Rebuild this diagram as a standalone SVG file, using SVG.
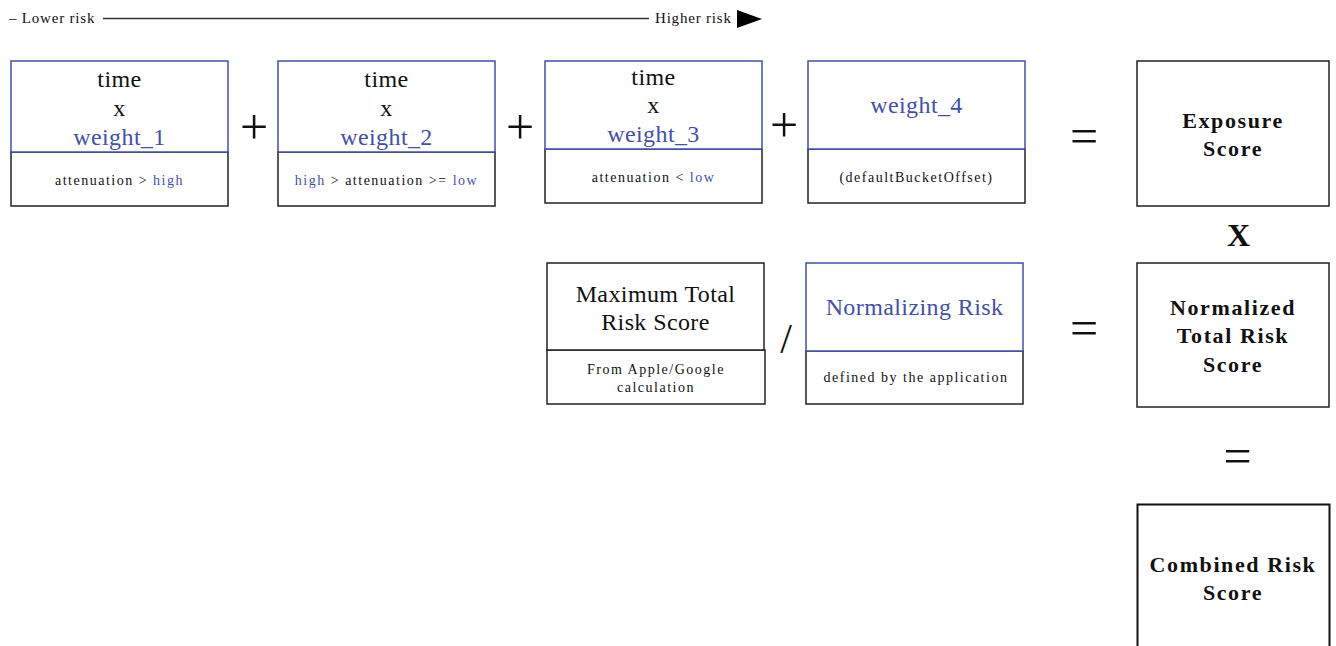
<svg xmlns="http://www.w3.org/2000/svg" width="1336" height="646" viewBox="0 0 1336 646">
  <style>
    .bg { fill: #ffffff; }
    .box { fill: #ffffff; stroke: #222; stroke-width: 1.5; }
    .boxb { fill: #ffffff; stroke: #3f4fb3; stroke-width: 1.5; }
    .t { font-family: "Liberation Serif", "Times New Roman", serif; fill: #111; text-anchor: middle; }
    .big { font-size: 24px; letter-spacing: 0.4px; }
    .small { font-size: 14px; letter-spacing: 1.5px; }
    .bold { font-size: 22px; font-weight: bold; letter-spacing: 1.6px; }
    .blue { fill: #3f4fb3; }
    .op { font-family: "Liberation Serif", "Times New Roman", serif; fill: #111; text-anchor: middle; font-size: 50px; }
    .axis { font-family: "Liberation Serif", "Times New Roman", serif; fill: #111; font-size: 15px; letter-spacing: 0.8px; }
  </style>
  <rect class="bg" x="0" y="0" width="1336" height="646"/>

  <!-- risk scale -->
  <g id="risk-scale">
    <text class="axis" x="9" y="23">– Lower risk</text>
    <line x1="103" y1="18.5" x2="649" y2="18.5" stroke="#333" stroke-width="1.6"/>
    <text class="axis" x="655" y="23">Higher risk</text>
    <polygon points="737,10 762,19 737,28" fill="#000"/>
  </g>

  <!-- term 1 -->
  <g id="term1">
    <rect class="box" x="11" y="152" width="217" height="54"/>
    <rect class="boxb" x="11" y="61" width="217" height="91"/>
    <text class="t big" x="119.5" y="87">time</text>
    <text class="t big" x="119.5" y="116">x</text>
    <text class="t big blue" x="119.5" y="145">weight_1</text>
    <text class="t small" x="119.5" y="185">attenuation &gt; <tspan class="blue">high</tspan></text>
  </g>

  <!-- term 2 -->
  <g id="term2">
    <rect class="box" x="278" y="152" width="217" height="54"/>
    <rect class="boxb" x="278" y="61" width="217" height="91"/>
    <text class="t big" x="386.5" y="87">time</text>
    <text class="t big" x="386.5" y="116">x</text>
    <text class="t big blue" x="386.5" y="145">weight_2</text>
    <text class="t small" x="386.5" y="185"><tspan class="blue">high</tspan> &gt; attenuation &gt;= <tspan class="blue">low</tspan></text>
  </g>

  <!-- term 3 -->
  <g id="term3">
    <rect class="box" x="545" y="149" width="217" height="54"/>
    <rect class="boxb" x="545" y="61" width="217" height="88"/>
    <text class="t big" x="653.5" y="85">time</text>
    <text class="t big" x="653.5" y="113">x</text>
    <text class="t big blue" x="653.5" y="142">weight_3</text>
    <text class="t small" x="653.5" y="182">attenuation &lt; <tspan class="blue">low</tspan></text>
  </g>

  <!-- term 4 -->
  <g id="term4">
    <rect class="box" x="808" y="149" width="217" height="54"/>
    <rect class="boxb" x="808" y="61" width="217" height="88"/>
    <text class="t big blue" x="916.5" y="113">weight_4</text>
    <text class="t small" x="916.5" y="182">(defaultBucketOffset)</text>
  </g>

  <!-- exposure score -->
  <g id="exposure-score">
    <rect class="box" x="1137" y="61" width="192" height="145"/>
    <text class="t bold" x="1233" y="128">Exposure</text>
    <text class="t bold" x="1233" y="156">Score</text>
  </g>

  <!-- maximum total risk score -->
  <g id="max-total-risk">
    <rect class="box" x="547" y="350" width="218" height="54"/>
    <rect class="box" x="547" y="263" width="217" height="87"/>
    <text class="t big" x="655.5" y="302">Maximum Total</text>
    <text class="t big" x="655.5" y="330">Risk Score</text>
    <text class="t small" x="656" y="374">From Apple/Google</text>
    <text class="t small" x="656" y="392">calculation</text>
  </g>

  <!-- normalizing risk -->
  <g id="normalizing-risk">
    <rect class="box" x="806" y="351" width="217" height="53"/>
    <rect class="boxb" x="806" y="263" width="217" height="88"/>
    <text class="t big blue" x="914.5" y="315">Normalizing Risk</text>
    <text class="t small" x="916" y="382">defined by the application</text>
  </g>

  <!-- normalized total risk score -->
  <g id="normalized-total-risk">
    <rect class="box" x="1137" y="263" width="192" height="144"/>
    <text class="t bold" x="1233" y="315">Normalized</text>
    <text class="t bold" x="1233" y="343">Total Risk</text>
    <text class="t bold" x="1233" y="372">Score</text>
  </g>

  <!-- combined risk score -->
  <g id="combined-risk">
    <rect x="1137.5" y="504.5" width="192" height="160" fill="#fff" stroke="#111" stroke-width="2"/>
    <text class="t bold" x="1233" y="572">Combined Risk</text>
    <text class="t bold" x="1233" y="600">Score</text>
  </g>

  <!-- operators -->
  <g id="connectors">
    <text class="op" x="254" y="144">+</text>
    <text class="op" x="520" y="144">+</text>
    <text class="op" x="784" y="142">+</text>
    <text class="op" x="1084" y="153">=</text>
    <text class="t" x="1238.5" y="246" style="font-size:32px;font-weight:bold">X</text>
    <text class="t" x="786" y="353" style="font-size:42px">/</text>
    <text class="op" x="1084" y="345">=</text>
    <text class="op" x="1237.5" y="473">=</text>
  </g>
</svg>
